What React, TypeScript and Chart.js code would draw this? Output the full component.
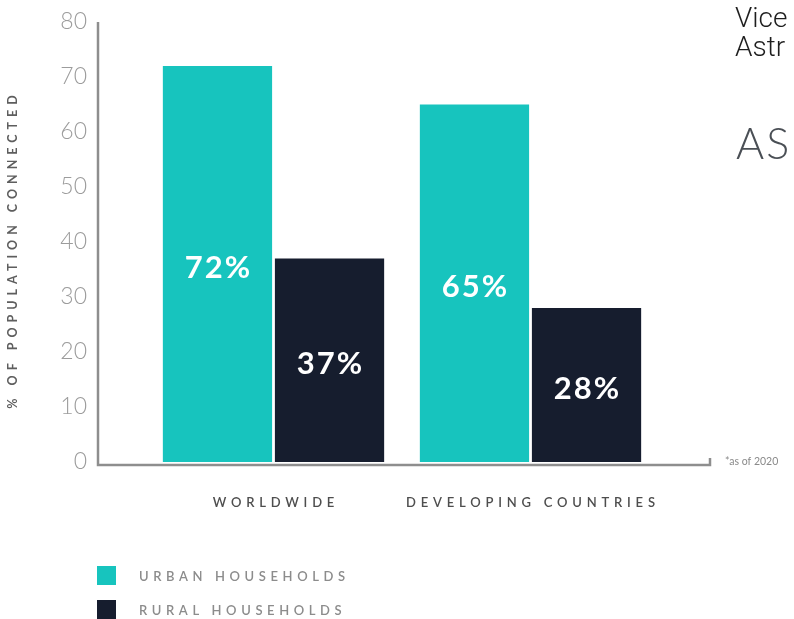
import React, { useEffect, useRef } from "react";
import { Chart, registerables } from "chart.js";

Chart.register(...registerables);

// ---- data ----
const categories = ["WORLDWIDE", "DEVELOPING COUNTRIES"];
const seriesNames = ["URBAN HOUSEHOLDS", "RURAL HOUSEHOLDS"];
const urbanValues = [72, 65];
const ruralValues = [37, 28];
const yMin = 0;
const yMax = 80;
const yStep = 10;
const yAxisTitle = "% OF POPULATION CONNECTED";
const footnote = "*as of 2020";
const sideLines = ["Vice", "Astr"];
const sideHeading = "AS";

// ---- styles ----
const TEAL = "#17C4BE";
const NAVY = "#161D2E";
const seriesColors = [TEAL, NAVY];

function spacedCenter(ctx: CanvasRenderingContext2D, text: string, x: number, y: number, spacing: number) {
  (ctx as any).letterSpacing = spacing + "px";
  ctx.textAlign = "center";
  ctx.fillText(text, x + spacing / 2, y);
}

const decorPlugin = {
  id: "decor",
  beforeDatasetsDraw(chart: any) {
    const ctx: CanvasRenderingContext2D = chart.ctx;
    const { left, right, top, bottom } = chart.chartArea;
    const axisX = left - 47;
    const axisY = bottom + 3;
    const axisEnd = right + 51;
    ctx.save();
    ctx.strokeStyle = "#8e8e8e";
    ctx.lineWidth = 2.5;
    ctx.beginPath();
    ctx.moveTo(axisX, top);
    ctx.lineTo(axisX, axisY);
    ctx.lineTo(axisEnd, axisY);
    ctx.lineTo(axisEnd, axisY - 7);
    ctx.stroke();

    // y axis title
    ctx.save();
    ctx.translate(13, (top + bottom) / 2 + 10);
    ctx.rotate(-Math.PI / 2);
    ctx.fillStyle = "#5e5e5e";
    ctx.font = "bold 12.5px Lato, 'Open Sans', sans-serif";
    ctx.textBaseline = "middle";
    spacedCenter(ctx, yAxisTitle, 0, 0, 5);
    ctx.restore();

    // category labels
    const xs = chart.scales.x;
    ctx.fillStyle = "#4e4e4e";
    ctx.font = "600 13px Lato, 'Open Sans', sans-serif";
    ctx.textBaseline = "middle";
    categories.forEach((c, i) => {
      spacedCenter(ctx, c, xs.getPixelForValue(i), bottom + 41, 4.8);
    });

    // footnote
    (ctx as any).letterSpacing = "0px";
    ctx.fillStyle = "#8a8a8a";
    ctx.font = "10.5px Lato, 'Open Sans', sans-serif";
    ctx.textAlign = "left";
    ctx.fillText(footnote, axisEnd + 15, axisY - 3);

    // legend
    const legX = axisX - 1;
    const sq = 19;
    chart.data.datasets.forEach((ds: any, i: number) => {
      const y0 = bottom + 104 + i * 34;
      ctx.fillStyle = ds.backgroundColor;
      ctx.fillRect(legX, y0, sq, sq);
      ctx.fillStyle = "#8c8c8c";
      ctx.font = "600 13px Lato, 'Open Sans', sans-serif";
      ctx.textBaseline = "middle";
      ctx.textAlign = "left";
      (ctx as any).letterSpacing = "4.6px";
      ctx.fillText(ds.label, legX + 42, y0 + sq / 2 + 1);
    });
    ctx.restore();
  },
  afterDatasetsDraw(chart: any) {
    const ctx: CanvasRenderingContext2D = chart.ctx;
    ctx.save();
    ctx.fillStyle = "#ffffff";
    ctx.font = "bold 31px Lato, 'Open Sans', sans-serif";
    ctx.textBaseline = "middle";
    chart.data.datasets.forEach((ds: any, di: number) => {
      const meta = chart.getDatasetMeta(di);
      meta.data.forEach((el: any, i: number) => {
        const v = ds.data[i];
        spacedCenter(ctx, v + "%", el.x, (el.y + el.base) / 2 + 4, 2);
      });
    });
    ctx.restore();
  },
};

export default function App() {
  const ref = useRef<HTMLCanvasElement | null>(null);
  useEffect(() => {
    if (!ref.current) return;
    const chart = new Chart(ref.current, {
      type: "bar",
      data: {
        labels: categories,
        datasets: [
          { label: seriesNames[0], data: urbanValues, backgroundColor: seriesColors[0] },
          { label: seriesNames[1], data: ruralValues, backgroundColor: seriesColors[1] },
        ],
      },
      options: {
        responsive: false,
        animation: false,
        devicePixelRatio: 1,
        layout: { padding: { top: 22, right: 135, bottom: 157, left: 0 } },
        datasets: {
          bar: { categoryPercentage: 0.872, barPercentage: 0.975 },
        },
        plugins: {
          legend: { display: false },
          tooltip: { enabled: false },
        },
        scales: {
          x: { display: false },
          y: {
            min: yMin,
            max: yMax,
            grid: { display: false, drawTicks: false },
            border: { display: false },
            ticks: {
              stepSize: yStep,
              padding: 58,
              color: "#9c9c9c",
              font: { family: "Lato, 'Open Sans', sans-serif", size: 23, weight: "300" as any },
            },
            afterFit: (s: any) => {
              s.width = 145;
              s.paddingTop = 0;
              s.paddingBottom = 0;
            },
          },
        },
      },
      plugins: [decorPlugin],
    });
    return () => chart.destroy();
  }, []);

  return (
    <div style={{ position: "fixed", left: 0, top: 0, width: 794, height: 619, background: "#fff", overflow: "hidden" }}>
      <canvas ref={ref} width={794} height={619} style={{ position: "absolute", left: 0, top: 0 }} />
      <div style={{ position: "absolute", left: 735, top: 3, fontFamily: "Roboto, sans-serif", fontWeight: 300, fontSize: 28, lineHeight: "29px", color: "#1e1e1e", whiteSpace: "nowrap" }}>
        {sideLines.map((t) => (
          <div key={t}>{t}</div>
        ))}
      </div>
      <div style={{ position: "absolute", left: 736, top: 118, fontFamily: "Lato, 'Open Sans', sans-serif", fontWeight: 300, fontSize: 43, lineHeight: "50px", color: "#4a4f55", whiteSpace: "nowrap", letterSpacing: 2 }}>
        {sideHeading}
      </div>
    </div>
  );
}
